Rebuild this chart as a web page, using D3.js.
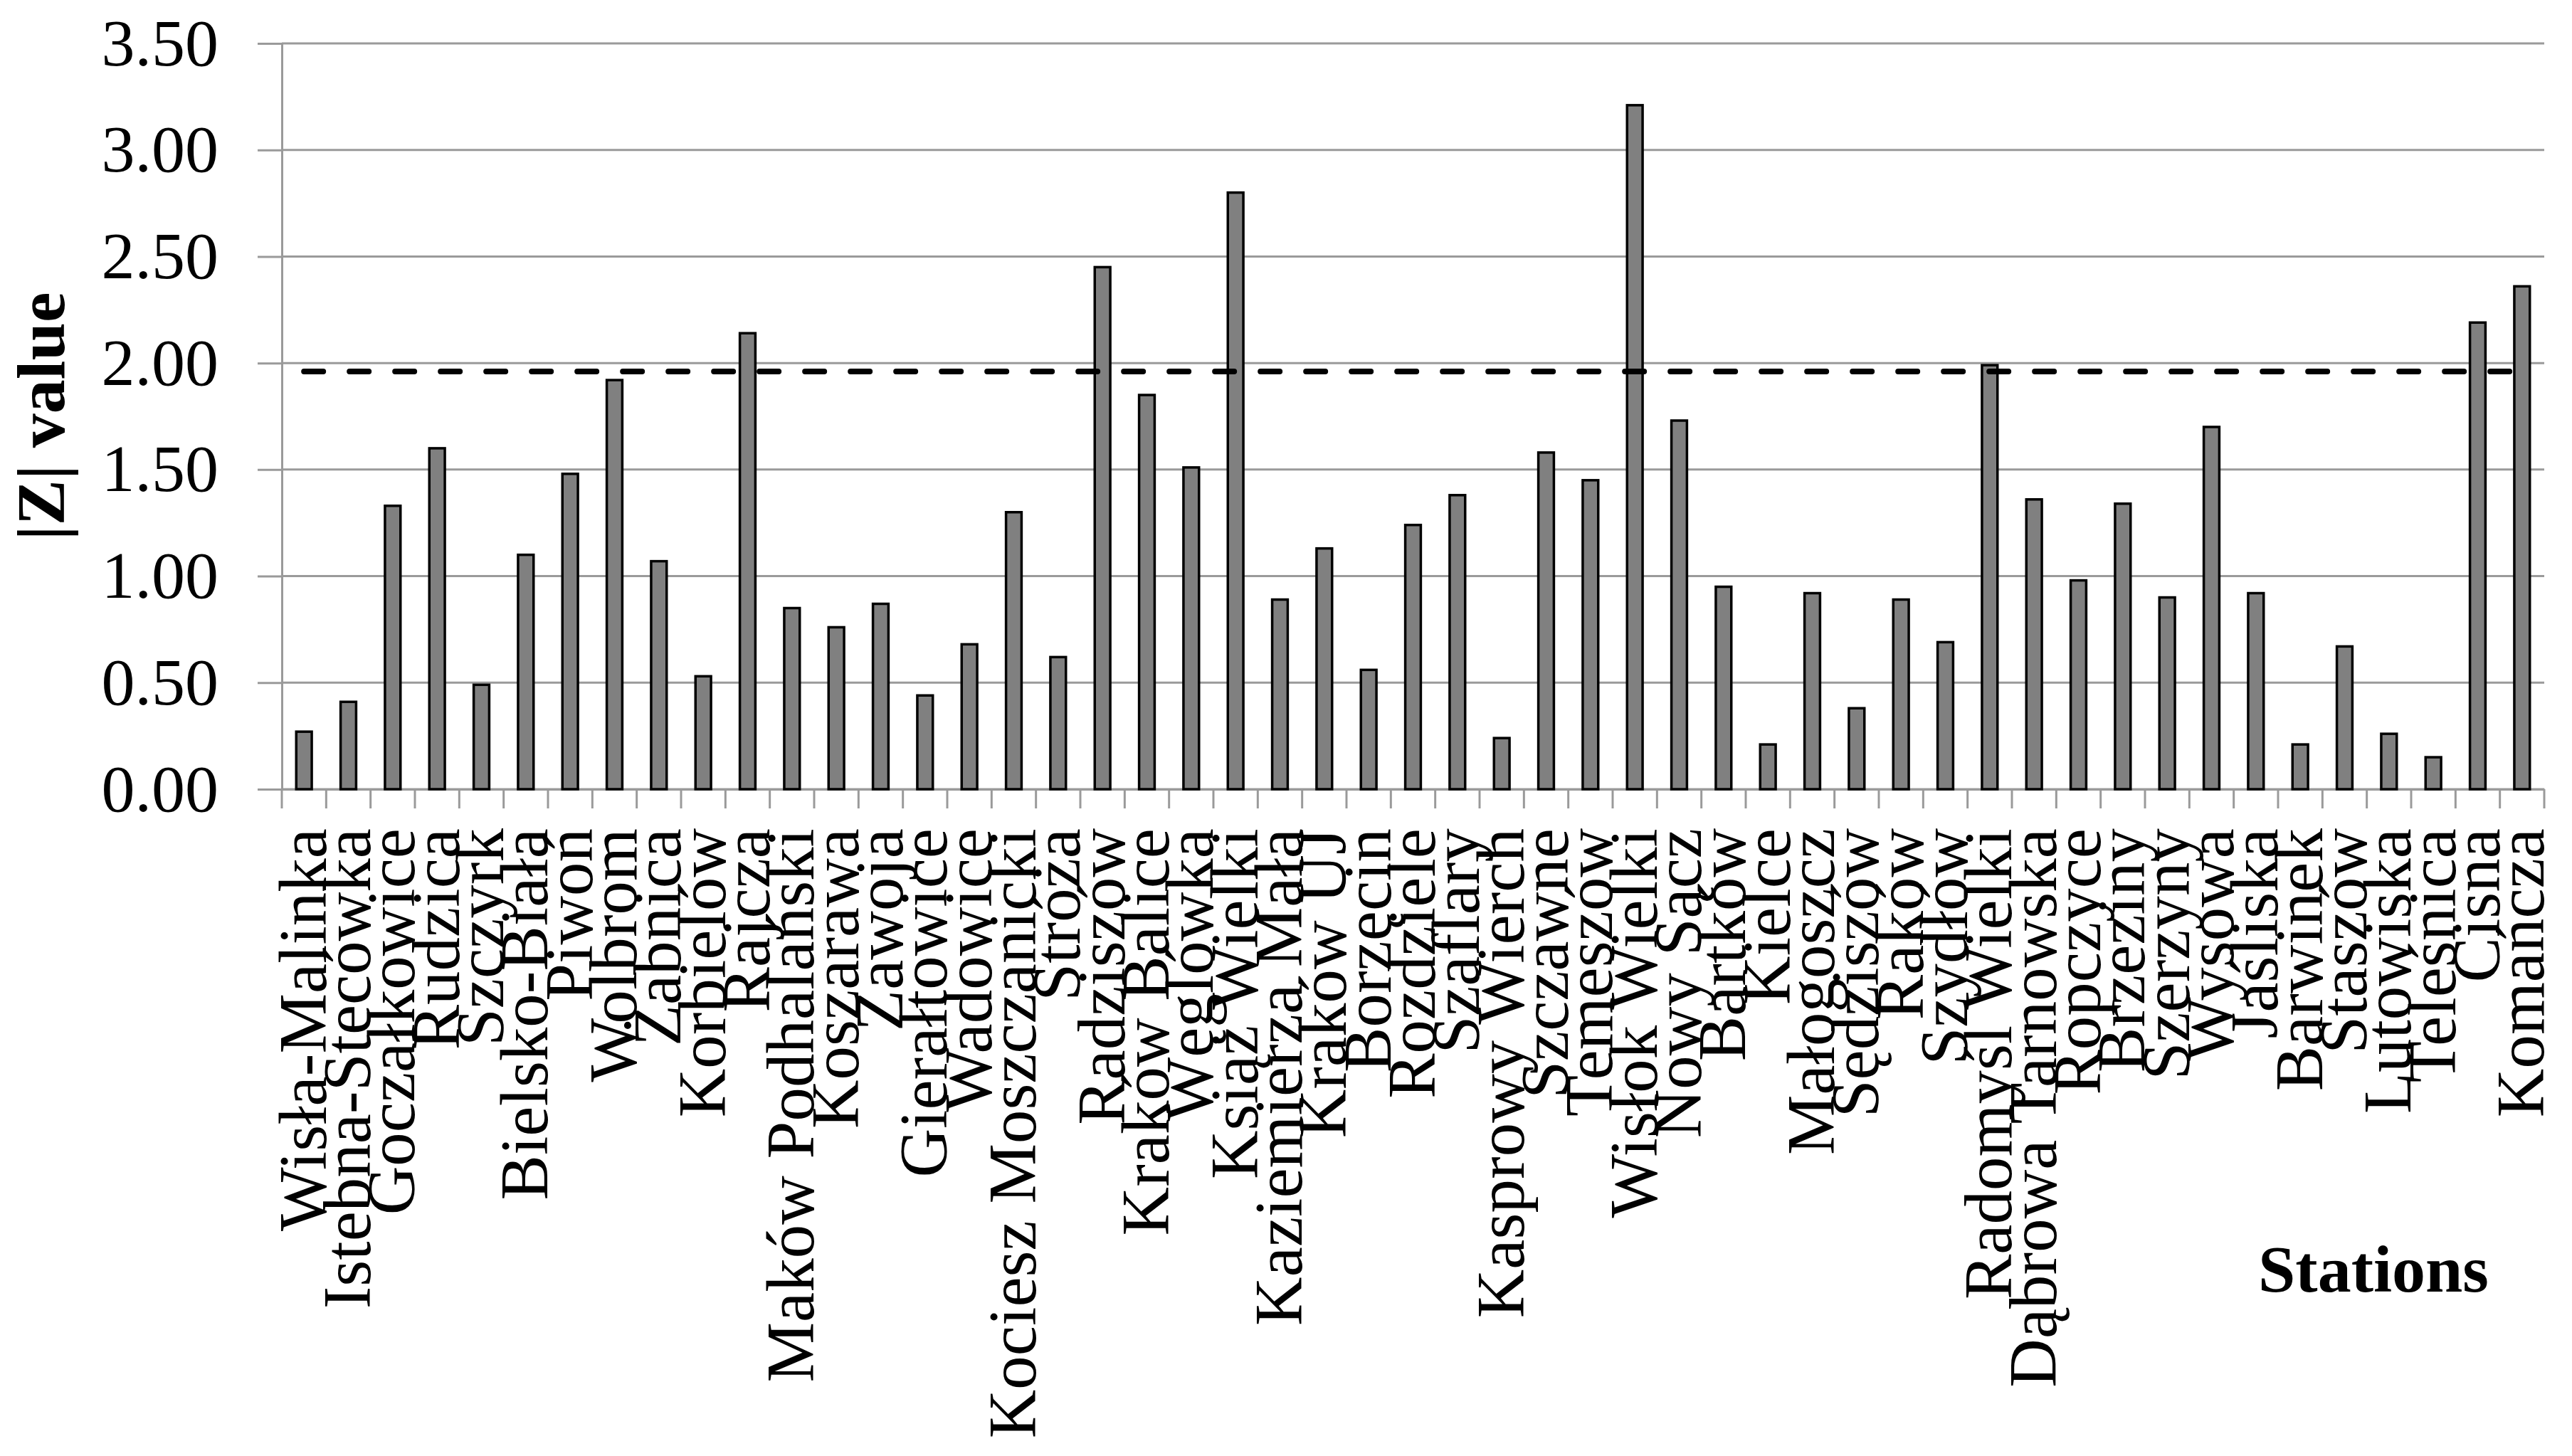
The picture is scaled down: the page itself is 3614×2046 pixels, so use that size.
<html lang="en">

<head>
    <meta charset="UTF-8">
    <title>|Z| value by station</title>
    <script src="https://d3js.org/d3.v7.min.js"></script>
    <style>
        body { margin: 0; background: #fff; }
        text { font-family: "Liberation Serif", "Times New Roman", serif; fill: #000; }
        .bar { fill: #808080; stroke: #000; stroke-width: 3.5; }
        .grid line { stroke: #9a9a9a; stroke-width: 3; }
        .axis path, .axis line { stroke: #9a9a9a; stroke-width: 3; }
    </style>
</head>

<body>
    <svg width="3614" height="2046"></svg>
    <script>
        // stations along the x axis
        var stations = ["Wisła-Malinka", "Istebna-Stecówka", "Goczałkowice", "Rudzica", "Szczyrk",
            "Bielsko-Biała", "Piwoń", "Wolbrom", "Żabnica", "Korbielów", "Rajcza", "Maków Podhalański",
            "Koszarawa", "Zawoja", "Gierałtowice", "Wadowice", "Kociesz Moszczanicki", "Stróża",
            "Radziszów", "Kraków Balice", "Węglówka", "Książ Wielki", "Kaziemierza Mała", "Kraków UJ",
            "Borzęcin", "Rozdziele", "Szaflary", "Kasprowy Wierch", "Szczawne", "Temeszów",
            "Wisłok Wielki", "Nowy Sącz", "Bartków", "Kielce", "Małogoszcz", "Sędziszów", "Raków",
            "Szydłów", "Radomyśl Wielki", "Dąbrowa Tarnowska", "Ropczyce", "Brzeziny", "Szerzyny",
            "Wysowa", "Jaśliska", "Barwinek", "Staszów", "Lutowiska", "Teleśnica", "Cisna", "Komańcza"];

        // |Z| value of each station
        var zValues = [0.27, 0.41, 1.33, 1.60, 0.49,
            1.10, 1.48, 1.92, 1.07, 0.53, 2.14, 0.85,
            0.76, 0.87, 0.44, 0.68, 1.30, 0.62,
            2.45, 1.85, 1.51, 2.80, 0.89, 1.13,
            0.56, 1.24, 1.38, 0.24, 1.58, 1.45,
            3.21, 1.73, 0.95, 0.21, 0.92, 0.38, 0.89,
            0.69, 1.99, 1.36, 0.98, 1.34, 0.90,
            1.70, 0.92, 0.21, 0.67, 0.26, 0.15, 2.19, 2.36];

        var yTicks = [0, 0.5, 1, 1.5, 2, 2.5, 3, 3.5];
        var threshold = 1.96; // critical |Z| at 0.05

        var data = stations.map(function (s, i) { return { station: s, z: zValues[i] }; });

        var svg = d3.select("svg"),
            margin = { top: 61, right: 39, bottom: 937, left: 396 },
            width = +svg.attr("width") - margin.left - margin.right,
            height = +svg.attr("height") - margin.top - margin.bottom;

        var xScale = d3.scaleBand().domain(stations).range([0, width]).paddingInner(0.65).paddingOuter(0.325),
            yScale = d3.scaleLinear().domain([0, 3.5]).range([height, 0]);

        var g = svg.append("g")
            .attr("transform", "translate(" + margin.left + "," + margin.top + ")");

        // horizontal gridlines
        g.append("g")
            .attr("class", "grid")
            .selectAll("line")
            .data(yTicks)
            .enter().append("line")
            .attr("x1", 0)
            .attr("x2", width)
            .attr("y1", function (d) { return yScale(d); })
            .attr("y2", function (d) { return yScale(d); });

        // y axis
        var yAxis = g.append("g")
            .attr("class", "axis")
            .call(d3.axisLeft(yScale).tickValues(yTicks).tickFormat(d3.format(".2f"))
                .tickSize(34).tickPadding(55).tickSizeOuter(0));
        yAxis.selectAll("text").style("font-size", "94px");

        // x axis: labels at band centres, tick marks at band edges
        var xAxis = g.append("g")
            .attr("class", "axis")
            .attr("transform", "translate(0," + height + ")")
            .call(d3.axisBottom(xScale).tickSize(0).tickSizeOuter(0));
        xAxis.selectAll("text")
            .attr("transform", "rotate(-90)")
            .attr("x", -55)
            .attr("y", 0)
            .attr("dy", "0.32em")
            .style("text-anchor", "end")
            .style("font-size", "95px");

        var step = xScale.step();
        xAxis.selectAll(".edge")
            .data(d3.range(stations.length + 1))
            .enter().append("line")
            .attr("class", "edge")
            .attr("x1", function (i) { return i * step; })
            .attr("x2", function (i) { return i * step; })
            .attr("y1", 0)
            .attr("y2", 27);

        // bars
        g.selectAll(".bar")
            .data(data)
            .enter().append("rect")
            .attr("class", "bar")
            .attr("x", function (d) { return xScale(d.station); })
            .attr("y", function (d) { return yScale(d.z); })
            .attr("width", xScale.bandwidth())
            .attr("height", function (d) { return height - yScale(d.z); });

        // dashed threshold line
        var line = d3.line()
            .x(function (d) { return xScale(d) + xScale.bandwidth() / 2; })
            .y(function () { return yScale(threshold); });
        g.append("path")
            .datum(stations)
            .attr("d", line)
            .attr("fill", "none")
            .attr("stroke", "#000")
            .attr("stroke-width", 8)
            .attr("stroke-linecap", "round")
            .attr("stroke-dasharray", "27,37");

        // axis titles
        svg.append("text")
            .attr("transform", "translate(90," + (margin.top + height / 2) + ") rotate(-90)")
            .attr("text-anchor", "middle")
            .style("font-size", "96px")
            .style("font-weight", "bold")
            .text("|Z| value");

        svg.append("text")
            .attr("x", 3335)
            .attr("y", 1815)
            .attr("text-anchor", "middle")
            .style("font-size", "94px")
            .style("font-weight", "bold")
            .text("Stations");
    </script>
</body>

</html>
